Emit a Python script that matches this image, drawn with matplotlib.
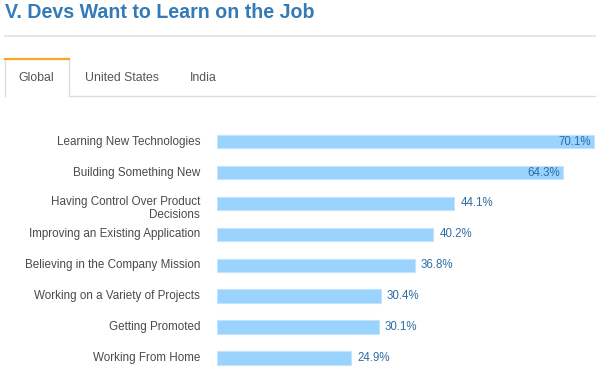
import matplotlib
matplotlib.use("Agg")
import matplotlib.pyplot as plt
import matplotlib.transforms as mtransforms
from matplotlib.lines import Line2D

categories = [
    "Learning New Technologies",
    "Building Something New",
    "Having Control Over Product\nDecisions",
    "Improving an Existing Application",
    "Believing in the Company Mission",
    "Working on a Variety of Projects",
    "Getting Promoted",
    "Working From Home",
]
values = [70.1, 64.3, 44.1, 40.2, 36.8, 30.4, 30.1, 24.9]
tabs = ["Global", "United States", "India"]
title = "V. Devs Want to Learn on the Job"

W, H = 600, 372
plt.rcParams['font.family'] = ['Liberation Sans', 'DejaVu Sans']
fig = plt.figure(figsize=(W / 100, H / 100), dpi=100)
fig.patch.set_facecolor('white')

def fx(px):
    return px / W

def fy(py):
    return 1 - py / H

# Title
fig.text(fx(5), fy(12.5), title, fontsize=14.1, fontweight='bold',
         color='#337ab7', ha='left', va='center')
# Separator line under title
fig.add_artist(Line2D([fx(5), fx(595)], [fy(35.5), fy(35.5)],
                      color='#e2e2e2', lw=1.2))

# Tabs
tab_col = '#dddddd'
fig.add_artist(Line2D([fx(5), fx(5)], [fy(58.5), fy(96)], color=tab_col, lw=1))
fig.add_artist(Line2D([fx(68.5), fx(68.5)], [fy(58.5), fy(96)], color=tab_col, lw=1))
fig.add_artist(Line2D([fx(68.5), fx(595)], [fy(95.5), fy(95.5)], color=tab_col, lw=1))
fig.add_artist(Line2D([fx(5), fx(68.5)], [fy(58.5), fy(58.5)], color='#f5a623', lw=1.6))
tab_x = [36.5, 122, 203]
for t, x in zip(tabs, tab_x):
    fig.text(fx(x), fy(78), t, fontsize=8.8, color='#555555', ha='center', va='center')

# Bar chart axes
left_px = 217
px_per = 5.382
right_px = 598
spacing = 30.9
top_px = 141.7 - spacing / 2
bottom_px = top_px + spacing * len(categories)
ax = fig.add_axes([fx(left_px), fy(bottom_px), fx(right_px - left_px),
                   (bottom_px - top_px) / H])
ax.set_xlim(0, (right_px - left_px) / px_per)
ax.set_ylim(len(categories) - 0.5, -0.5)
ax.axis('off')
ax.patch.set_alpha(0)

ypos = list(range(len(categories)))
ax.barh(ypos, values, height=0.44, color='#9ad3fd', edgecolor='#c2e4fd',
        linewidth=0.8)

for i, (c, v) in enumerate(zip(categories, values)):
    dy = -5 if "\n" in c else 0
    tr = mtransforms.offset_copy(ax.transData, fig=fig, x=-17, y=dy, units='dots')
    ax.text(0, i, c, transform=tr, ha='right', va='center', fontsize=8.35,
            color='#4a4a4a', linespacing=1.15)
    if v > 60:
        tr2 = mtransforms.offset_copy(ax.transData, fig=fig, x=-3, y=0, units='dots')
        ax.text(v, i, f"{v:.1f}%", transform=tr2, ha='right', va='center',
                fontsize=8.3, color='#2e6da4')
    else:
        tr2 = mtransforms.offset_copy(ax.transData, fig=fig, x=6, y=0, units='dots')
        ax.text(v, i, f"{v:.1f}%", transform=tr2, ha='left', va='center',
                fontsize=8.3, color='#2e6da4')

fig.savefig('out.png', dpi=100, facecolor='white')
